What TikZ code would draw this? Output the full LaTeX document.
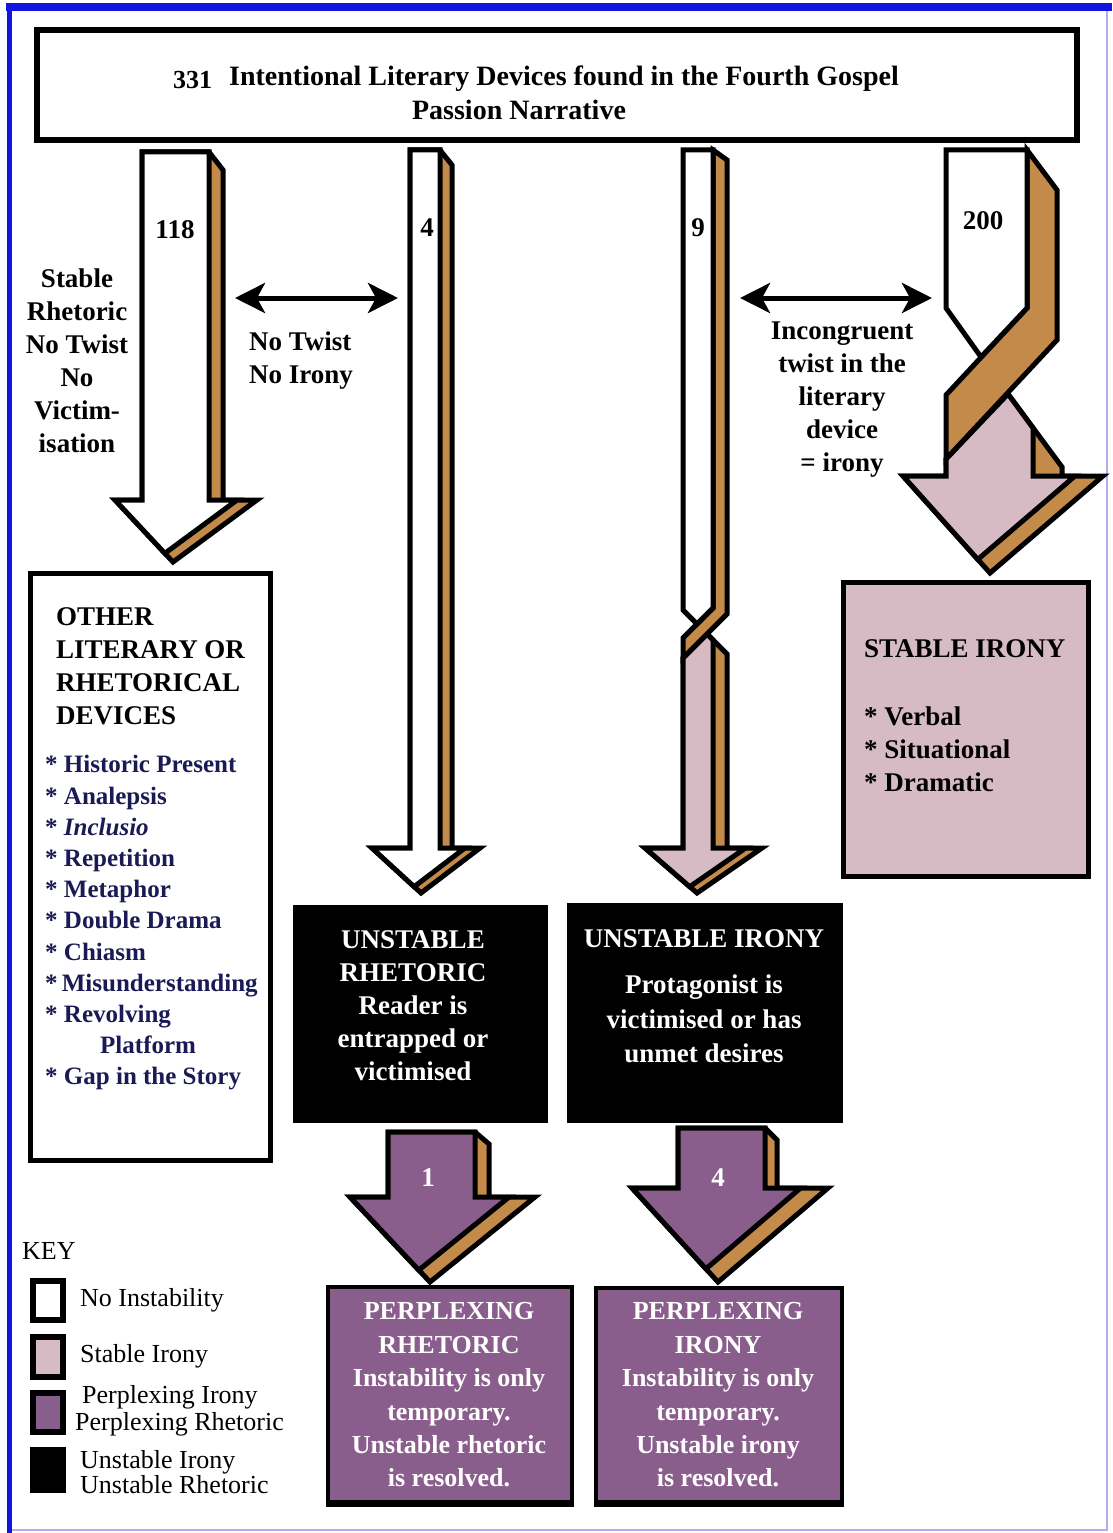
\documentclass[tikz,border=0pt]{standalone}
\usepackage{fontspec}
\setmainfont{Liberation Serif}
\usetikzlibrary{arrows.meta,calc}

\definecolor{ribbon}{RGB}{196,138,74}
\definecolor{stablepink}{RGB}{215,187,196}
\definecolor{perplex}{RGB}{138,94,140}
\definecolor{navytext}{RGB}{26,26,85}
\definecolor{frameblue}{RGB}{20,20,225}
\definecolor{framelight}{RGB}{175,175,240}

% share of the head that shows the front face
\newcommand\facer{0.86}

% extruded block arrow pointing down; #1 = coordinate prefix, #2 = face colour
\newcommand\blockarrow[2]{%
  \filldraw[outline, fill=ribbon] (#1-tl) -- (#1-tr) -- (#1-sk) -- (#1-sk |- #1-L)
    -- (#1-W) -- (#1-T) -- (#1-L) -- (#1-tl |- #1-L) -- cycle;
  \filldraw[outline, fill=#2] (#1-tl) -- (#1-tr) -- (#1-tr |- #1-L)
    -- ($(#1-L)!\facer!(#1-W)$) -- ($(#1-L)!\facer!(#1-T)$) -- (#1-L)
    -- (#1-tl |- #1-L) -- cycle;
}

\tikzset{
  outline/.style={draw=black, line width=5pt, line join=miter, miter limit=4},
  big/.style={font=\bfseries\fontsize{27}{33}\selectfont, align=center, inner sep=0pt},
  listtxt/.style={font=\bfseries\fontsize{25}{31.2}\selectfont, align=left, inner sep=0pt},
  boxtxt/.style={font=\bfseries\fontsize{26}{33.4}\selectfont, align=center, inner sep=0pt, text=white},
  keytxt/.style={font=\fontsize{26}{27}\selectfont, inner sep=0pt, anchor=west},
  keybox/.style={draw=black, line width=6.5pt},
  twoway/.style={line width=5pt, {Stealth[length=30pt,width=30pt,inset=8pt]}-{Stealth[length=30pt,width=30pt,inset=8pt]}}
}

\begin{document}
\begin{tikzpicture}[x=1pt,y=-1pt]
\useasboundingbox (0,0) rectangle (1112,1533);
\fill[white] (0,0) rectangle (1112,1533);

% frame
\draw[framelight, line width=2pt] (9,1530) -- (1107,1530) -- (1107,10);
\draw[frameblue, line width=8pt] (6,7) -- (1112,7);
\draw[frameblue, line width=5pt] (9.5,3) -- (9.5,1533);

% heading
\draw[line width=6pt] (37,30) rectangle (1077,140);
\draw[line width=3pt] (37,141) -- (1077,141);
\node[big, font=\bfseries\fontsize{28}{33}\selectfont] (head1) at (536,79)
  {\raisebox{-3pt}{\fontsize{26}{33}\selectfont 331}\hspace{17pt}Intentional Literary Devices found in the Fourth Gospel};
\node[big, font=\bfseries\fontsize{28}{33}\selectfont] (head2) at (519,110) {Passion Narrative};

% arrow 118
\coordinate (a1-tl) at (142,152); \coordinate (a1-tr) at (209,152); \coordinate (a1-sk) at (223,170);
\coordinate (a1-L) at (115,500); \coordinate (a1-W) at (257,500); \coordinate (a1-T) at (173,562);
\blockarrow{a1}{white}

% arrow 4
\coordinate (a2-tl) at (410,150); \coordinate (a2-tr) at (440,150); \coordinate (a2-sk) at (452,165);
\coordinate (a2-L) at (372,848); \coordinate (a2-W) at (480,848); \coordinate (a2-T) at (421,893);
\blockarrow{a2}{white}

% arrow 9, twisted part-way down
\filldraw[outline, fill=ribbon] (683,658) -- (707,634) -- (727,654) -- (727,848) -- (762,848)
  -- (697,893) -- (645,848) -- (683,848) -- cycle;
\filldraw[outline, fill=stablepink] (683,658) -- (707,634) -- (713,640) -- (713,848)
  -- ($(645,848)!\facer!(762,848)$) -- ($(645,848)!\facer!(697,893)$) -- (645,848) -- (683,848) -- cycle;
\filldraw[outline, fill=ribbon] (713,150) -- (727,160) -- (727,614) -- (683,658) -- (683,638) -- (713,608) -- cycle;
\filldraw[outline, fill=white] (683,150) -- (713,150) -- (713,608) -- (697,624) -- (683,610) -- cycle;

% arrow 200, twisted
\filldraw[outline, fill=ribbon] (946,459) -- (1008,394) -- (1062,467) -- (1062,476) -- (1103,476)
  -- (990,573) -- (903,476) -- (946,476) -- cycle;
\filldraw[outline, fill=stablepink] (946,459) -- (1008,394) -- (1033,428) -- (1033,476)
  -- ($(903,476)!\facer!(1103,476)$) -- ($(903,476)!\facer!(990,573)$) -- (903,476) -- (946,476) -- cycle;
\filldraw[outline, fill=ribbon] (1027,150) -- (1057,190) -- (1057,340) -- (946,459) -- (946,395) -- (1027,308) -- cycle;
\filldraw[outline, fill=white] (946,150) -- (1027,150) -- (1027,308) -- (981,357) -- (946,308) -- cycle;

% counts on the arrows
\node[big] (n118) at (175,230) {118};
\node[big] (n4) at (427,228) {4};
\node[big] (n9) at (698,228) {9};
\node[big] (n200) at (983,221) {200};

% side labels
\node[big] (stable) at (77,361) {Stable\\Rhetoric\\No Twist\\No\\Victim-\\isation};
\node[big, align=left, anchor=west] (notwist) at (249,361) {No Twist\\No Irony};
\node[big] (incong) at (842,400) {Incongruent\\twist in the\\literary\\device\\= irony};

% two-way arrows
\coordinate (d1a) at (235,298); \coordinate (d1b) at (398,298);
\coordinate (d2a) at (740,298); \coordinate (d2b) at (932,298);
\draw[twoway] (d1a) -- (d1b);
\draw[twoway] (d2a) -- (d2b);

% other devices
\draw[line width=5pt] (30,573) rectangle (270,1160);
\node[big, align=left, anchor=west] (other) at (56,666) {OTHER\\LITERARY OR\\RHETORICAL\\DEVICES};
\node[listtxt, text=navytext, anchor=west] (devices) at (45,923)
  {* Historic Present\\* Analepsis\\* \textit{Inclusio}\\* Repetition\\* Metaphor\\* Double Drama\\* Chiasm\\*\,Misunderstanding\\* Revolving\\\hspace*{55pt}Platform\\* Gap in the Story};

% stable irony
\filldraw[fill=stablepink, draw=black, line width=5pt] (843,582) rectangle (1088,876);
\node[big, anchor=west] (stabletitle) at (864,649) {STABLE IRONY};
\node[big, align=left, anchor=west] (stablelist) at (864,749) {* Verbal\\* Situational\\* Dramatic};

% unstable boxes
\fill[black] (293,905) rectangle (548,1123);
\node[big, text=white] (unrh) at (413,1006) {UNSTABLE\\RHETORIC\\Reader is\\entrapped or\\victimised};
\fill[black] (567,903) rectangle (843,1123);
\node[big, text=white] (unirtitle) at (704,939) {UNSTABLE IRONY};
\node[big, text=white, font=\bfseries\fontsize{27}{34.5}\selectfont] (unir) at (704,1019) {Protagonist is\\victimised or has\\unmet desires};

% purple arrows
\coordinate (p1-tl) at (388,1132); \coordinate (p1-tr) at (475,1132); \coordinate (p1-sk) at (489,1144);
\coordinate (p1-L) at (350,1197); \coordinate (p1-W) at (535,1197); \coordinate (p1-T) at (430,1282);
\blockarrow{p1}{perplex}
\coordinate (p2-tl) at (678,1128); \coordinate (p2-tr) at (765,1128); \coordinate (p2-sk) at (777,1140);
\coordinate (p2-L) at (632,1188); \coordinate (p2-W) at (828,1188); \coordinate (p2-T) at (718,1282);
\blockarrow{p2}{perplex}
\node[big, text=white] (n1) at (428,1178) {1};
\node[big, text=white] (n4b) at (718,1178) {4};

% perplexing boxes
\filldraw[fill=perplex, draw=black, line width=4pt] (328,1287) rectangle (572,1503);
\draw[line width=7pt] (326,1503) -- (574,1503);
\node[boxtxt] (perrh) at (449,1395) {PERPLEXING\\RHETORIC\\Instability is only\\temporary.\\Unstable rhetoric\\is resolved.};
\filldraw[fill=perplex, draw=black, line width=4pt] (596,1288) rectangle (842,1503);
\draw[line width=7pt] (594,1503) -- (844,1503);
\node[boxtxt] (perir) at (718,1395) {PERPLEXING\\IRONY\\Instability is only\\temporary.\\Unstable irony\\is resolved.};

% key
\node[keytxt] (key) at (22,1251) {KEY};
\filldraw[keybox, fill=white] (33,1281) rectangle (63,1320);
\node[keytxt] (k1) at (80,1300) {No Instability};
\filldraw[keybox, fill=stablepink] (33,1337) rectangle (63,1377);
\node[keytxt] (k2) at (80,1356) {Stable Irony};
\filldraw[keybox, fill=perplex] (33,1393) rectangle (63,1432);
\node[keytxt] (k3a) at (82,1397) {Perplexing Irony};
\node[keytxt] (k3b) at (75,1424) {Perplexing Rhetoric};
\filldraw[keybox, fill=black] (33,1450) rectangle (63,1490);
\node[keytxt] (k4a) at (80,1462) {Unstable Irony};
\node[keytxt] (k4b) at (80,1485) {Unstable Rhetoric};
\end{tikzpicture}
\end{document}
